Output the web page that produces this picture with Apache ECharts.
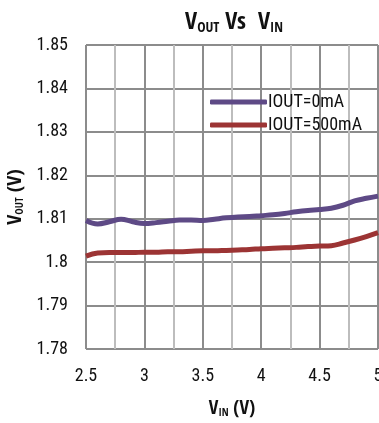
<!DOCTYPE html>
<html>
<head>
<meta charset="utf-8">
<script src="https://cdn.jsdelivr.net/npm/echarts@6/dist/echarts.min.js"></script>
<style>
  html, body { margin: 0; padding: 0; background: #fff; }
  #chart { width: 379px; height: 423px; }
</style>
</head>
<body>
<div id="chart"></div>
<script>
// input voltage (V)
const vin = [2.5, 2.6, 2.7, 2.8, 2.9, 3.0, 3.1, 3.2, 3.3, 3.4, 3.5, 3.6, 3.7,
  3.8, 3.9, 4.0, 4.1, 4.2, 4.3, 4.4, 4.5, 4.6, 4.7, 4.8, 4.9, 5.0]
// output voltage at 0mA load
const vout0mA = [1.8096, 1.8088, 1.8093, 1.8099, 1.8093, 1.8089, 1.8091, 1.8094,
  1.8097, 1.8097, 1.8096, 1.8099, 1.8102, 1.8104, 1.8105, 1.8107, 1.8109, 1.8112,
  1.8116, 1.8119, 1.8121, 1.8124, 1.8131, 1.8141, 1.8147, 1.8152]
// output voltage at 500mA load
const vout500mA = [1.8014, 1.8021, 1.8022, 1.8022, 1.8022, 1.8023, 1.8023, 1.8024,
  1.8024, 1.8025, 1.8026, 1.8026, 1.8027, 1.8028, 1.8029, 1.8031, 1.8032, 1.8033,
  1.8034, 1.8036, 1.8037, 1.8038, 1.8044, 1.8051, 1.8059, 1.8068]
const seriesNames = ['IOUT=0mA', 'IOUT=500mA']

const boldFont = '"Open Sans Condensed", "Roboto Condensed", sans-serif'
const thinFont = '"Roboto Condensed", sans-serif'
const purple = '#5e4a86'
const red = '#9c3434'

const chart = echarts.init(document.getElementById('chart'))

const pairs = (ys) => vin.map((x, i) => [x, ys[i]])

const subRich = (big, small) => ({
  m: { fontFamily: boldFont, fontSize: big, fontWeight: 'bold', color: '#111' },
  s: { fontFamily: boldFont, fontSize: small, fontWeight: 'bold', color: '#111', verticalAlign: 'bottom', padding: [Math.round(big * 0.45), 0, 0, 0] }
})

chart.setOption({
  animation: false,
  backgroundColor: '#fff',
  textStyle: { fontFamily: thinFont },
  title: {
    text: '{m|V}{s|OUT}{m| Vs  V}{s|IN}',
    left: 229,
    textAlign: 'center',
    top: 5,
    textStyle: { rich: subRich(24, 14) }
  },
  legend: {
    data: seriesNames,
    orient: 'vertical',
    left: 205,
    top: 88,
    itemWidth: 57,
    itemHeight: 5,
    itemGap: 5,
    icon: 'roundRect',
    textStyle: { fontFamily: thinFont, fontSize: 18, color: '#111', padding: [0, 0, 0, -4] }
  },
  grid: { left: 86, right: 1, top: 45, bottom: 74, outerBoundsMode: 'none' },
  xAxis: {
    type: 'value',
    min: 2.5,
    max: 5,
    interval: 0.5,
    name: '{m|V}{s|IN}{m| (V)}',
    nameLocation: 'middle',
    nameGap: 50,
    nameTextStyle: { rich: subRich(19, 11) },
    axisLine: { show: false },
    axisTick: { show: false },
    axisLabel: { fontFamily: thinFont, fontSize: 18, color: '#111', margin: 18 },
    splitLine: { show: true, lineStyle: { color: '#8c8c8c', width: 2 } },
    minorTick: { show: false, splitNumber: 2 },
    minorSplitLine: { show: true, lineStyle: { color: '#bdbdbd', width: 2 } }
  },
  yAxis: {
    type: 'value',
    min: 1.78,
    max: 1.85,
    interval: 0.01,
    name: '{m|V}{s|OUT}{m| (V)}',
    nameLocation: 'middle',
    nameGap: 52,
    nameRotate: 90,
    nameTextStyle: { rich: subRich(20, 11) },
    axisLine: { show: false },
    axisTick: { show: false },
    axisLabel: { fontFamily: thinFont, fontSize: 18, color: '#111', margin: 18 },
    splitLine: { show: true, lineStyle: { color: '#8c8c8c', width: 2 } }
  },
  series: [
    {
      name: seriesNames[0],
      type: 'line',
      data: pairs(vout0mA),
      smooth: 0.4,
      showSymbol: false,
      itemStyle: { color: purple },
      lineStyle: { color: purple, width: 5 }
    },
    {
      name: seriesNames[1],
      type: 'line',
      data: pairs(vout500mA),
      smooth: 0.4,
      showSymbol: false,
      itemStyle: { color: red },
      lineStyle: { color: red, width: 5 }
    }
  ]
})
</script>
</body>
</html>
